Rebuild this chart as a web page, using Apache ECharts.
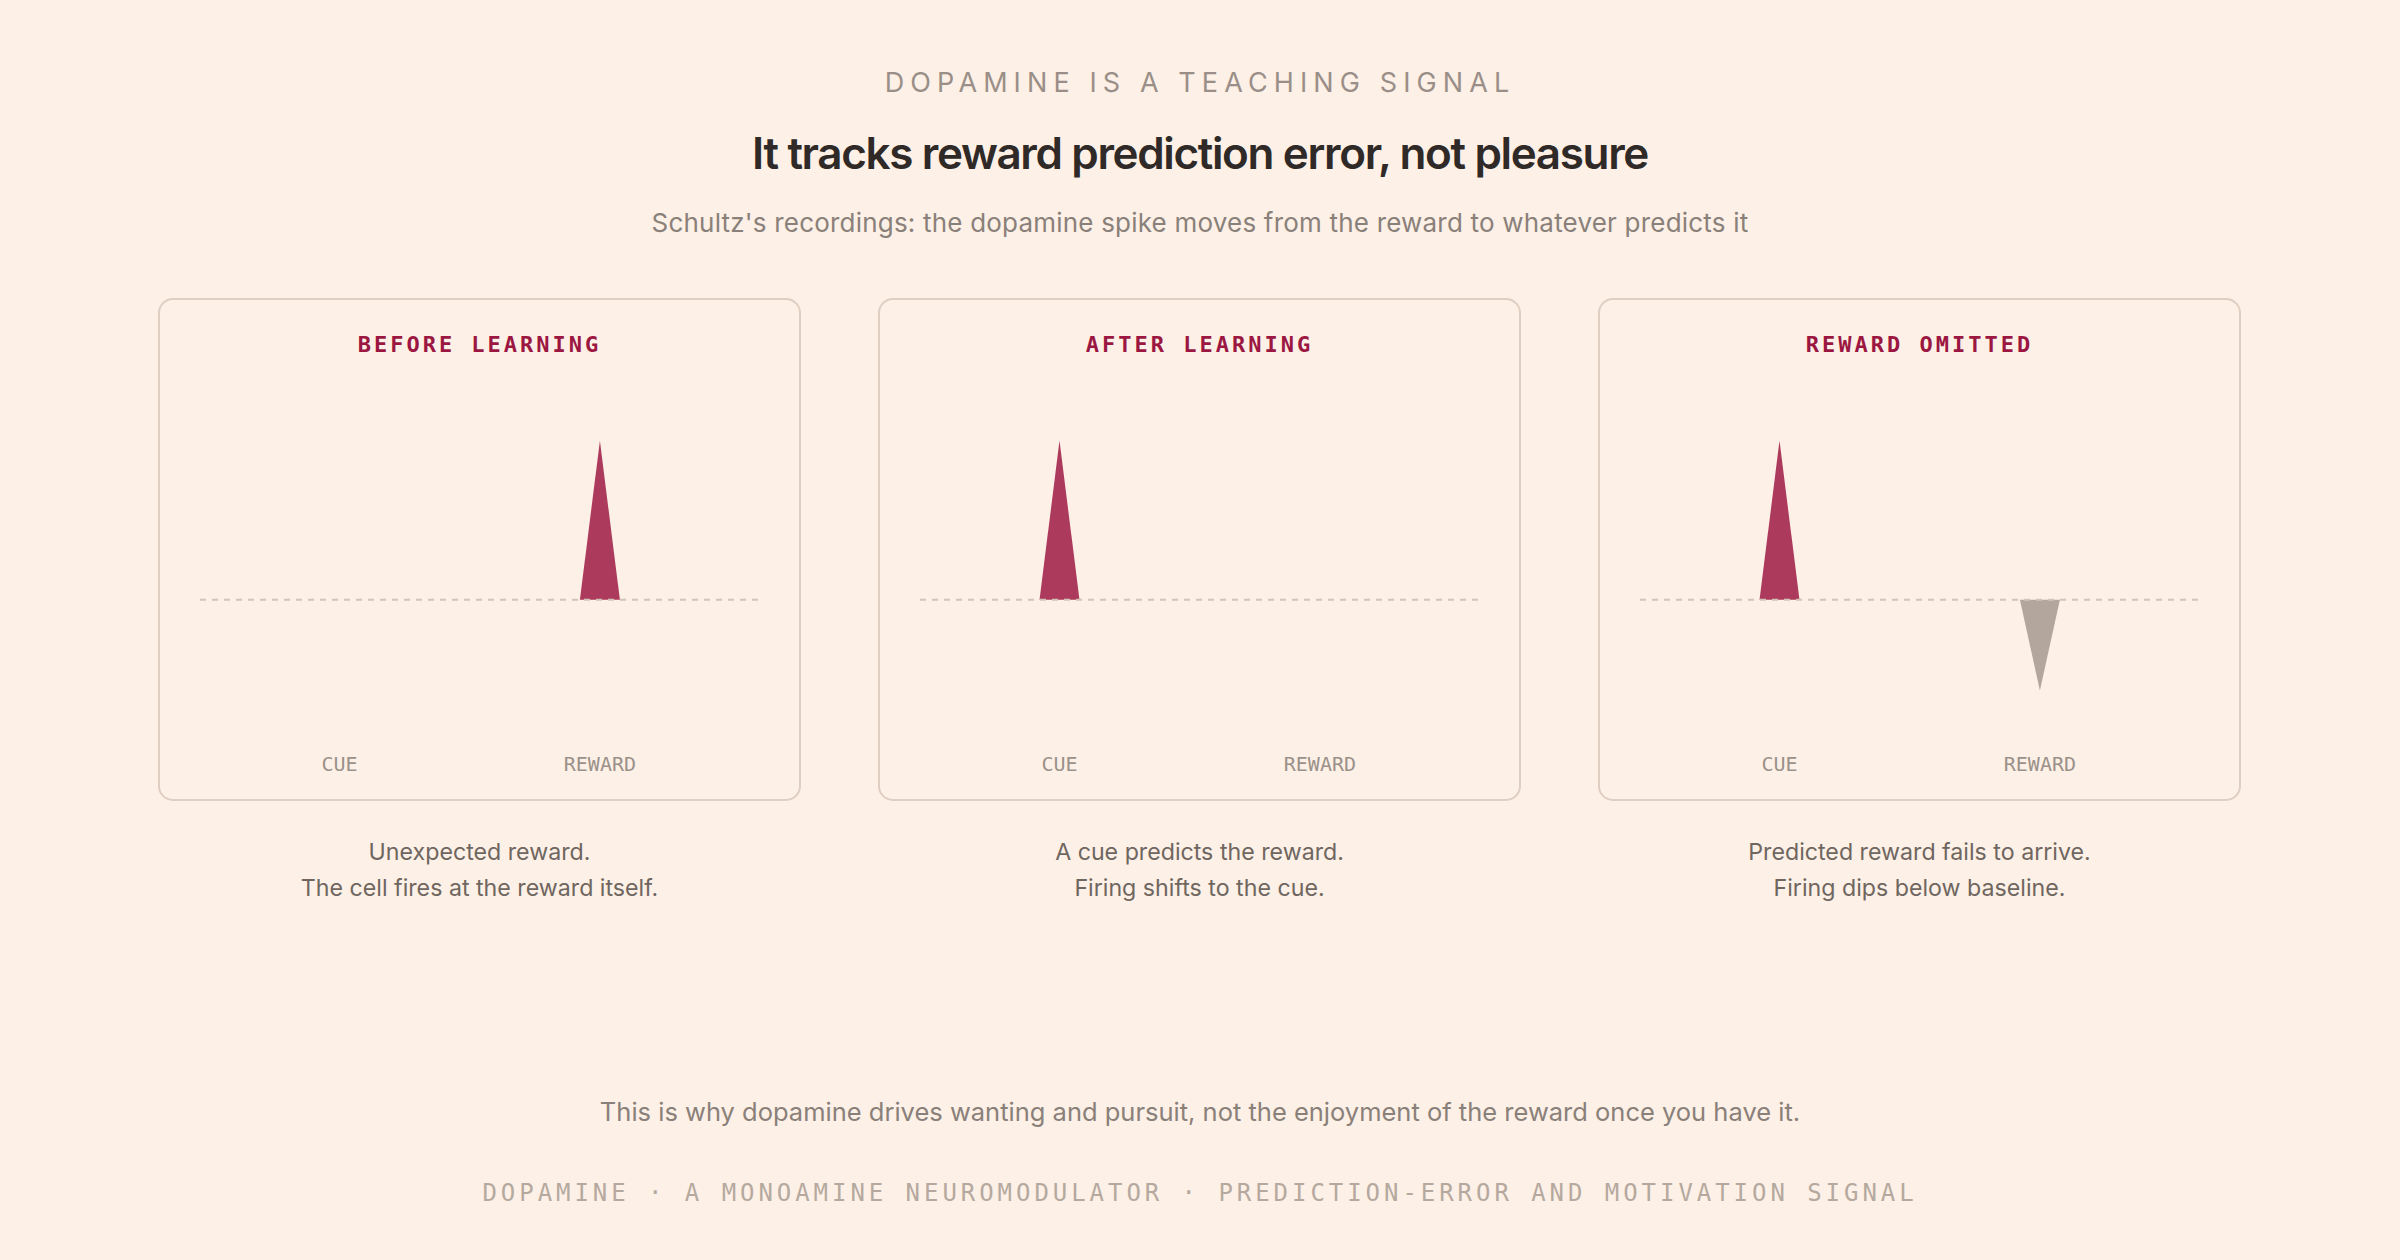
<!DOCTYPE html>
<html><head><meta charset="utf-8">
<script src="https://cdn.jsdelivr.net/npm/echarts@6/dist/echarts.min.js"></script>
<style>html,body{margin:0;padding:0;background:#fdf0e6;}#c{width:2400px;height:1260px;}</style>
</head><body><div id="c"></div>
<script>
// ---------- data ----------
const kicker = 'DOPAMINE IS A TEACHING SIGNAL';
const headline = 'It tracks reward prediction error, not pleasure';
const subhead = "Schultz's recordings: the dopamine spike moves from the reward to whatever predicts it";
const panelTitles = ['BEFORE LEARNING', 'AFTER LEARNING', 'REWARD OMITTED'];
const eventNames = ['CUE', 'REWARD'];
const eventTimes = [300, 860];          // ms within the trial window
const timeRange = [0, 1200];            // ms
const cueResponse = [0, 1, 1];          // firing change at the cue (relative to baseline)
const rewardResponse = [1, 0, -0.57];   // firing change at the reward time
const spikeHalfWidth = 43;              // ms
const captions = [
  ['Unexpected reward.', 'The cell fires at the reward itself.'],
  ['A cue predicts the reward.', 'Firing shifts to the cue.'],
  ['Predicted reward fails to arrive.', 'Firing dips below baseline.']
];
const closing = 'This is why dopamine drives wanting and pursuit, not the enjoyment of the reward once you have it.';
const footer = 'DOPAMINE \u00b7 A MONOAMINE NEUROMODULATOR \u00b7 PREDICTION-ERROR AND MOTIVATION SIGNAL';

// ---------- styling ----------
const SANS = "Inter, 'Noto Sans', sans-serif";
const MONO = "'DejaVu Sans Mono', monospace";
const RED = '#ac3a5d', GREY = '#b3a69d';

// letter spacing (px) for tracked text
const LS = {};
LS[kicker] = 6.1; LS[headline] = -1.35; LS[footer] = 3.95; LS[subhead] = 0.2;
panelTitles.forEach(t => LS[t] = 3.0);

const chart = echarts.init(document.getElementById('c'), null, {renderer: 'svg'});

const PANEL_X = [159, 879, 1599], PANEL_W = 641, PANEL_Y = 299, PANEL_H = 501;
const grids = [], xAxes = [], yAxes = [], series = [], graphics = [];

function txt(text, x, y, o) {
  graphics.push({type: 'text', x: x, y: y, silent: true, z: 10, style: Object.assign({
    text: text, textAlign: 'center', textVerticalAlign: 'middle', fontFamily: SANS
  }, o)});
}

txt(kicker, 1200, 82, {fontSize: 27, fontWeight: 400, fill: '#9a8f88'});
txt(headline, 1200, 152.7, {fontSize: 44, fontWeight: 600, fill: '#2f2a27'});
txt(subhead, 1200, 222, {fontSize: 26, fontWeight: 400, fill: '#8a807a'});
txt(closing, 1200, 1111, {fontSize: 25.5, fontWeight: 400, fill: '#8a807a'});
txt(footer, 1200, 1192.5, {fontSize: 24, fontWeight: 400, fontFamily: MONO, fill: '#b5a99f'});

panelTitles.forEach((title, i) => {
  const px = PANEL_X[i], cx = px + PANEL_W / 2;
  graphics.push({type: 'rect', silent: true, z: 0,
    shape: {x: px, y: PANEL_Y, width: PANEL_W, height: PANEL_H, r: 14},
    style: {fill: 'transparent', stroke: '#dfcec2', lineWidth: 2}});
  txt(title, cx, 344, {fontSize: 22, fontWeight: 700, fontFamily: MONO, fill: '#9b1742'});
  txt(captions[i].join('\n'), cx, 870, {fontSize: 23.2, lineHeight: 36, fill: '#6f6660'});

  grids.push({left: px + 41, top: 409, width: 558, height: 334});
  xAxes.push({gridIndex: i, type: 'value', min: timeRange[0], max: timeRange[1],
    axisLine: {show: false}, axisTick: {show: false}, splitLine: {show: false},
    axisLabel: {customValues: eventTimes, formatter: v => eventNames[eventTimes.indexOf(v)],
      color: '#9b918a', fontFamily: MONO, fontSize: 20, lineHeight: 20, margin: 10.5}});
  yAxes.push({gridIndex: i, type: 'value', min: -0.9, max: 1.2, show: false});

  const resp = [cueResponse[i], rewardResponse[i]];
  resp.forEach((a, k) => {
    if (!a) return;
    const t = eventTimes[k];
    series.push({type: 'line', xAxisIndex: i, yAxisIndex: i, silent: true, symbol: 'none', z: 2,
      data: [[t - spikeHalfWidth, 0], [t, a], [t + spikeHalfWidth, 0]],
      lineStyle: {width: 0}, areaStyle: {color: a > 0 ? RED : GREY, opacity: 1}});
  });
  series.push({type: 'line', xAxisIndex: i, yAxisIndex: i, silent: true, symbol: 'none', z: 3,
    data: [[timeRange[0], 0], [timeRange[1], 0]],
    lineStyle: {color: '#d3c4b8', width: 2, type: [6, 6]}});
});

chart.setOption({
  backgroundColor: '#fdf0e6',
  animation: false,
  grid: grids, xAxis: xAxes, yAxis: yAxes, series: series,
  graphic: graphics
});

// apply tracking to the rendered SVG text nodes
function applyTracking() {
  document.querySelectorAll('#c svg text').forEach(el => {
    const ls = LS[el.textContent];
    if (ls === undefined) return;
    el.style.letterSpacing = ls + 'px';
  });
}
applyTracking();
chart.on('finished', applyTracking);
</script></body></html>
